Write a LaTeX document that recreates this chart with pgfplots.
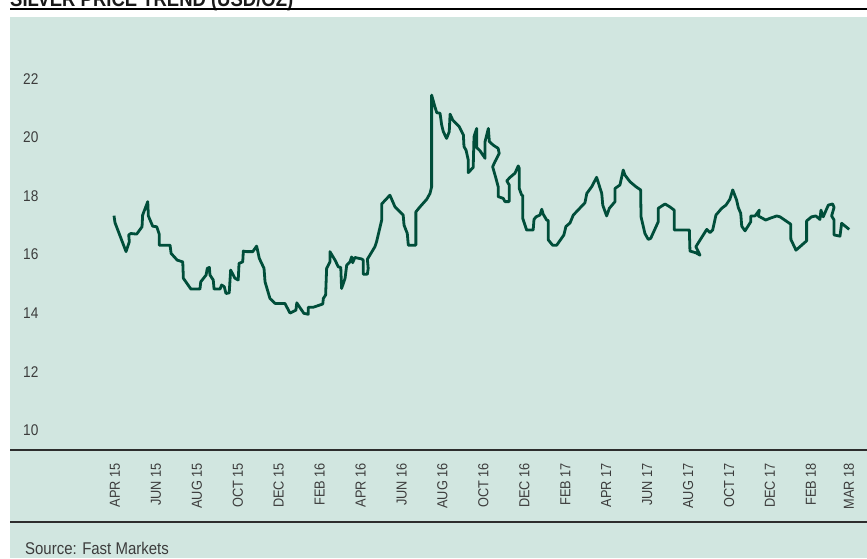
\documentclass[border=0pt]{standalone}
\usepackage{fontspec}
\setmainfont[FakeStretch=0.88]{Liberation Sans}
\usepackage{pgfplots}
\pgfplotsset{compat=1.18}
\definecolor{bgmint}{RGB}{209,230,224}
\definecolor{silverline}{RGB}{0,78,58}
\definecolor{txtgray}{RGB}{60,60,60}
\definecolor{rulegray}{RGB}{45,45,45}

\begin{document}
\begin{tikzpicture}
\useasboundingbox (0pt,0pt) rectangle (867pt,558pt);
\clip (0pt,0pt) rectangle (867pt,558pt);
% frame: background, title, rules
\fill[bgmint] (10pt,0pt) rectangle (867pt,541pt);
\node[anchor=base west,inner sep=0pt,font=\fontsize{21}{21}\selectfont\bfseries,text=black!90]
  at (10pt,551.5pt) {SILVER PRICE TREND (USD/OZ)};
\draw[black,line width=1.3pt] (10pt,549pt) -- (867pt,549pt);

\begin{axis}[
  at={(10pt,108pt)}, anchor=south west,
  scale only axis, width=857pt, height=433pt,
  xmin=-5.13, xmax=36.74, ymin=9.32, ymax=24.12,
  axis line style={draw=none},
  major tick length=0pt,
  /pgf/number format/assume math mode=true,
  ytick={10,12,...,22},
  yticklabel style={anchor=west, xshift=13pt, inner sep=0pt,
    font=\fontsize{15.5}{15.5}\selectfont, text=txtgray},
  xtick={0,2,4,6,8,10,12,14,16,18,20,22,24,26,28,30,32,34,35.86},
  xticklabels={APR 15,JUN 15,AUG 15,OCT 15,DEC 15,FEB 16,APR 16,JUN 16,AUG 16,
    OCT 16,DEC 16,FEB 17,APR 17,JUN 17,AUG 17,OCT 17,DEC 17,FEB 18,MAR 18},
  xticklabel shift=13pt,
  xticklabel style={rotate=90, anchor=east, inner sep=0pt,
    font=\fontsize{14.5}{14.5}\selectfont, text=txtgray},
]
\addplot[silverline, line width=2.8pt, line join=round, no marks] coordinates {
(-0.05,17.33)(0.00,17.09)(0.54,16.10)(0.70,16.44)(0.67,16.67)(0.77,16.72)(1.06,16.70)
(1.32,16.95)(1.35,17.35)(1.60,17.81)(1.63,17.32)(1.84,16.97)(2.04,16.95)(2.16,16.70)
(2.16,16.32)(2.69,16.32)(2.74,16.04)(3.04,15.81)(3.31,15.75)(3.34,15.19)(3.71,14.82)
(4.15,14.82)(4.19,15.07)(4.45,15.30)(4.51,15.53)(4.61,15.56)(4.64,15.30)(4.80,15.13)
(4.84,14.82)(5.13,14.82)(5.21,14.96)(5.34,14.90)(5.42,14.67)(5.58,14.69)(5.65,15.47)
(5.86,15.19)(6.02,15.13)(6.06,15.70)(6.24,15.75)(6.27,16.12)(6.43,16.10)(6.73,16.10)
(6.92,16.29)(7.05,15.87)(7.28,15.53)(7.33,15.07)(7.57,14.50)(7.82,14.33)(8.30,14.33)
(8.55,14.00)(8.84,14.10)(8.88,14.35)(9.12,14.10)(9.23,13.99)(9.44,13.96)(9.44,14.20)
(9.69,14.20)(10.15,14.31)(10.18,14.50)(10.29,14.62)(10.34,15.53)(10.50,15.75)(10.50,16.10)
(10.75,15.81)(10.91,15.58)(11.03,15.56)(11.07,14.84)(11.24,15.19)(11.32,15.64)(11.48,15.75)
(11.56,15.92)(11.61,15.72)(11.72,15.90)(12.05,15.85)(12.13,15.81)(12.13,15.33)(12.33,15.33)
(12.37,15.53)(12.33,15.84)(12.70,16.27)(12.78,16.44)(13.03,17.18)(13.03,17.73)(13.43,18.03)
(13.68,17.63)(14.08,17.35)(14.12,17.01)(14.28,16.72)(14.33,16.32)(14.70,16.32)(14.70,17.46)
(14.90,17.63)(15.23,17.89)(15.39,18.09)(15.47,18.32)(15.47,21.45)(15.63,21.05)(15.72,20.85)
(15.88,20.83)(15.96,20.43)(16.04,20.20)(16.20,19.97)(16.33,20.20)(16.37,20.80)(16.50,20.60)
(16.82,20.37)(17.02,20.09)(17.05,19.69)(17.15,19.57)(17.26,19.23)(17.26,18.80)(17.50,18.98)
(17.54,20.03)(17.67,20.31)(17.67,19.66)(17.83,19.55)(18.08,19.29)(18.08,19.86)(18.24,20.31)
(18.29,19.86)(18.48,19.74)(18.72,19.63)(18.77,19.46)(18.56,19.17)(18.45,19.00)(18.61,18.61)
(18.72,18.32)(18.72,17.98)(18.97,17.92)(19.05,17.81)(19.26,17.81)(19.26,18.38)(19.14,18.52)
(19.30,18.64)(19.54,18.78)(19.70,19.03)(19.75,18.95)(19.75,18.26)(19.87,18.03)(19.92,18.03)
(19.92,17.24)(20.11,16.84)(20.43,16.84)(20.47,17.20)(20.57,17.29)(20.76,17.35)(20.85,17.55)
(20.92,17.38)(21.09,17.18)(21.17,17.16)(21.17,16.50)(21.38,16.32)(21.58,16.32)(21.93,16.67)
(22.03,16.96)(22.23,17.08)(22.39,17.35)(22.96,17.77)(23.05,18.09)(23.29,18.32)(23.53,18.64)
(23.78,18.09)(23.83,17.69)(24.02,17.32)(24.15,17.58)(24.43,17.81)(24.43,18.26)(24.67,18.38)
(24.83,18.89)(24.91,18.72)(25.16,18.49)(25.45,18.32)(25.68,18.21)(25.70,17.29)(25.89,16.72)
(26.05,16.52)(26.17,16.55)(26.54,17.12)(26.54,17.58)(26.87,17.73)(27.11,17.63)(27.32,17.52)
(27.32,16.84)(28.06,16.84)(28.09,16.12)(28.38,16.06)(28.58,15.98)(28.38,16.27)(28.91,16.86)
(29.07,16.75)(29.20,16.84)(29.36,17.35)(29.64,17.58)(29.85,17.69)(30.04,17.89)(30.18,18.21)
(30.37,17.86)(30.45,17.61)(30.57,17.41)(30.62,16.97)(30.78,16.81)(31.06,17.12)(31.06,17.32)
(31.27,17.32)(31.48,17.52)(31.43,17.32)(31.79,17.18)(32.00,17.24)(32.33,17.32)(32.49,17.29)
(33.01,17.04)(33.02,16.52)(33.27,16.15)(33.79,16.47)(33.79,17.15)(34.03,17.29)(34.24,17.32)
(34.44,17.20)(34.49,17.52)(34.60,17.29)(34.73,17.50)(34.85,17.69)(35.06,17.73)(35.13,17.61)
(35.01,17.32)(35.13,17.18)(35.13,16.67)(35.42,16.63)(35.50,17.07)(35.87,16.86)
};
\end{axis}

% bottom rules and source note
\draw[rulegray,line width=1.2pt] (10pt,108pt) -- (867pt,108pt);
\draw[rulegray,line width=1.2pt] (10pt,36pt) -- (867pt,36pt);
\node[anchor=base west,inner sep=0pt,font=\fontsize{17}{17}\selectfont,text=txtgray]
  at (25pt,3.7pt) {Source: Fast Markets};
\end{tikzpicture}
\end{document}
